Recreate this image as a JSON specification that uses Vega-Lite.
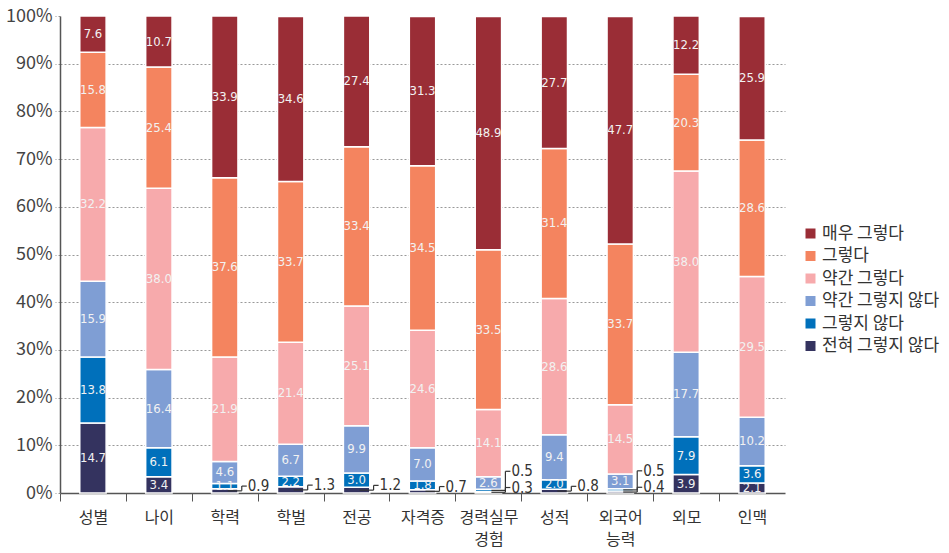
{
  "$schema": "https://vega.github.io/schema/vega-lite/v6.json",
  "width": 725,
  "height": 477,
  "autosize": {"type": "none"},
  "padding": {"left": 60, "top": 16, "right": 164, "bottom": 60},
  "background": "white",
  "config": {
    "view": {"stroke": null},
    "font": "Noto Sans CJK KR"
  },
  "data": {
    "values": [
      {"cat": "성별", "resp": "전혀 그렇지 않다", "k": 0, "v": 14.7},
      {"cat": "성별", "resp": "그렇지 않다", "k": 1, "v": 13.8},
      {"cat": "성별", "resp": "약간 그렇지 않다", "k": 2, "v": 15.9},
      {"cat": "성별", "resp": "약간 그렇다", "k": 3, "v": 32.2},
      {"cat": "성별", "resp": "그렇다", "k": 4, "v": 15.8},
      {"cat": "성별", "resp": "매우 그렇다", "k": 5, "v": 7.6},
      {"cat": "나이", "resp": "전혀 그렇지 않다", "k": 0, "v": 3.4},
      {"cat": "나이", "resp": "그렇지 않다", "k": 1, "v": 6.1},
      {"cat": "나이", "resp": "약간 그렇지 않다", "k": 2, "v": 16.4},
      {"cat": "나이", "resp": "약간 그렇다", "k": 3, "v": 38.0},
      {"cat": "나이", "resp": "그렇다", "k": 4, "v": 25.4},
      {"cat": "나이", "resp": "매우 그렇다", "k": 5, "v": 10.7},
      {"cat": "학력", "resp": "전혀 그렇지 않다", "k": 0, "v": 0.9},
      {"cat": "학력", "resp": "그렇지 않다", "k": 1, "v": 1.1},
      {"cat": "학력", "resp": "약간 그렇지 않다", "k": 2, "v": 4.6},
      {"cat": "학력", "resp": "약간 그렇다", "k": 3, "v": 21.9},
      {"cat": "학력", "resp": "그렇다", "k": 4, "v": 37.6},
      {"cat": "학력", "resp": "매우 그렇다", "k": 5, "v": 33.9},
      {"cat": "학벌", "resp": "전혀 그렇지 않다", "k": 0, "v": 1.3},
      {"cat": "학벌", "resp": "그렇지 않다", "k": 1, "v": 2.2},
      {"cat": "학벌", "resp": "약간 그렇지 않다", "k": 2, "v": 6.7},
      {"cat": "학벌", "resp": "약간 그렇다", "k": 3, "v": 21.4},
      {"cat": "학벌", "resp": "그렇다", "k": 4, "v": 33.7},
      {"cat": "학벌", "resp": "매우 그렇다", "k": 5, "v": 34.6},
      {"cat": "전공", "resp": "전혀 그렇지 않다", "k": 0, "v": 1.2},
      {"cat": "전공", "resp": "그렇지 않다", "k": 1, "v": 3.0},
      {"cat": "전공", "resp": "약간 그렇지 않다", "k": 2, "v": 9.9},
      {"cat": "전공", "resp": "약간 그렇다", "k": 3, "v": 25.1},
      {"cat": "전공", "resp": "그렇다", "k": 4, "v": 33.4},
      {"cat": "전공", "resp": "매우 그렇다", "k": 5, "v": 27.4},
      {"cat": "자격증", "resp": "전혀 그렇지 않다", "k": 0, "v": 0.7},
      {"cat": "자격증", "resp": "그렇지 않다", "k": 1, "v": 1.8},
      {"cat": "자격증", "resp": "약간 그렇지 않다", "k": 2, "v": 7.0},
      {"cat": "자격증", "resp": "약간 그렇다", "k": 3, "v": 24.6},
      {"cat": "자격증", "resp": "그렇다", "k": 4, "v": 34.5},
      {"cat": "자격증", "resp": "매우 그렇다", "k": 5, "v": 31.3},
      {"cat": "경력실무경험", "resp": "전혀 그렇지 않다", "k": 0, "v": 0.3},
      {"cat": "경력실무경험", "resp": "그렇지 않다", "k": 1, "v": 0.5},
      {"cat": "경력실무경험", "resp": "약간 그렇지 않다", "k": 2, "v": 2.6},
      {"cat": "경력실무경험", "resp": "약간 그렇다", "k": 3, "v": 14.1},
      {"cat": "경력실무경험", "resp": "그렇다", "k": 4, "v": 33.5},
      {"cat": "경력실무경험", "resp": "매우 그렇다", "k": 5, "v": 48.9},
      {"cat": "성적", "resp": "전혀 그렇지 않다", "k": 0, "v": 0.8},
      {"cat": "성적", "resp": "그렇지 않다", "k": 1, "v": 2.0},
      {"cat": "성적", "resp": "약간 그렇지 않다", "k": 2, "v": 9.4},
      {"cat": "성적", "resp": "약간 그렇다", "k": 3, "v": 28.6},
      {"cat": "성적", "resp": "그렇다", "k": 4, "v": 31.4},
      {"cat": "성적", "resp": "매우 그렇다", "k": 5, "v": 27.7},
      {"cat": "외국어능력", "resp": "전혀 그렇지 않다", "k": 0, "v": 0.4},
      {"cat": "외국어능력", "resp": "그렇지 않다", "k": 1, "v": 0.5},
      {"cat": "외국어능력", "resp": "약간 그렇지 않다", "k": 2, "v": 3.1},
      {"cat": "외국어능력", "resp": "약간 그렇다", "k": 3, "v": 14.5},
      {"cat": "외국어능력", "resp": "그렇다", "k": 4, "v": 33.7},
      {"cat": "외국어능력", "resp": "매우 그렇다", "k": 5, "v": 47.7},
      {"cat": "외모", "resp": "전혀 그렇지 않다", "k": 0, "v": 3.9},
      {"cat": "외모", "resp": "그렇지 않다", "k": 1, "v": 7.9},
      {"cat": "외모", "resp": "약간 그렇지 않다", "k": 2, "v": 17.7},
      {"cat": "외모", "resp": "약간 그렇다", "k": 3, "v": 38.0},
      {"cat": "외모", "resp": "그렇다", "k": 4, "v": 20.3},
      {"cat": "외모", "resp": "매우 그렇다", "k": 5, "v": 12.2},
      {"cat": "인맥", "resp": "전혀 그렇지 않다", "k": 0, "v": 2.1},
      {"cat": "인맥", "resp": "그렇지 않다", "k": 1, "v": 3.6},
      {"cat": "인맥", "resp": "약간 그렇지 않다", "k": 2, "v": 10.2},
      {"cat": "인맥", "resp": "약간 그렇다", "k": 3, "v": 29.5},
      {"cat": "인맥", "resp": "그렇다", "k": 4, "v": 28.6},
      {"cat": "인맥", "resp": "매우 그렇다", "k": 5, "v": 25.9}
    ]
  },
  "transform": [
    {"stack": "v", "groupby": ["cat"], "sort": [{"field": "k", "order": "ascending"}], "as": ["y0", "y1"]},
    {"calculate": "(datum.y0 + datum.y1) / 2", "as": "mid"},
    {"calculate": "datum.k == 0 ? datum.mid + 1.0 : datum.mid + 4.0", "as": "ly"}
  ],
  "encoding": {
    "x": {
      "field": "cat",
      "type": "nominal",
      "sort": ["성별", "나이", "학력", "학벌", "전공", "자격증", "경력실무경험", "성적", "외국어능력", "외모", "인맥"],
      "scale": {"paddingInner": 0.6, "paddingOuter": 0.3},
      "axis": {
        "title": null,
        "labelAngle": 0,
        "labelFontSize": 16,
        "labelColor": "#333333",
        "labelFont": "Noto Sans CJK KR",
        "labelExpr": "datum.label == '경력실무경험' ? ['경력실무', '경험'] : datum.label == '외국어능력' ? ['외국어', '능력'] : datum.label",
        "labelLineHeight": 22,
        "labelPadding": 8,
        "domainColor": "#555555",
        "domainWidth": 1.5,
        "tickColor": "#555555",
        "tickSize": 8,
        "tickOffset": -33,
        "labelOffset": 33
      }
    }
  },
  "layer": [
    {
      "mark": {"type": "bar", "stroke": "white", "strokeWidth": 1.5},
      "encoding": {
        "y": {
          "field": "y0",
          "type": "quantitative",
          "scale": {"domain": [0, 100], "nice": false},
          "axis": {
            "title": null,
            "values": [0, 10, 20, 30, 40, 50, 60, 70, 80, 90, 100],
            "labelExpr": "datum.value + '%'",
            "labelFontSize": 18,
            "labelColor": "#444444",
            "labelFont": "Noto Sans CJK KR",
            "labelPadding": 3,
            "domainColor": "#555555",
            "domainWidth": 1.5,
            "tickColor": "#999999",
            "tickDash": [2, 2],
            "tickSize": 5,
            "grid": true,
            "gridColor": "#999999",
            "gridDash": [2, 2],
            "gridOpacity": {"condition": {"test": "datum.value == 100 || datum.value == 0", "value": 0}, "value": 1}
          }
        },
        "y2": {"field": "y1"},
        "color": {
          "field": "resp",
          "type": "nominal",
          "scale": {
            "domain": ["매우 그렇다", "그렇다", "약간 그렇다", "약간 그렇지 않다", "그렇지 않다", "전혀 그렇지 않다"],
            "range": ["#9A2D36", "#F4845F", "#F7AAAC", "#7F9ED4", "#0070BB", "#34335F"]
          },
          "legend": {
            "title": null,
            "orient": "none",
            "legendX": 742,
            "legendY": 209,
            "padding": 0,
            "symbolType": "square",
            "symbolSize": 100,
            "symbolStrokeWidth": 0,
            "labelFontSize": 17,
            "labelColor": "#333333",
            "labelFont": "Noto Sans CJK KR",
            "labelOffset": 3,
            "rowPadding": 4.5
          }
        }
      }
    },
    {
      "transform": [{"filter": "!((datum.k == 0 && datum.v < 2) || (datum.k == 1 && datum.v < 1))"}],
      "mark": {"type": "text", "fontSize": 13, "color": "#F2F2F2", "font": "Liberation Sans Narrow, DejaVu Sans Condensed, sans-serif", "baseline": "middle", "align": "center"},
      "encoding": {
        "y": {"field": "mid", "type": "quantitative"},
        "text": {"field": "v", "type": "quantitative", "format": ".1f"}
      }
    },
    {
      "transform": [{"filter": "(datum.k == 0 && datum.v < 2) || (datum.k == 1 && datum.v < 1)"}],
      "mark": {"type": "rule", "color": "#333333", "strokeWidth": 1.2, "xOffset": 3, "x2Offset": 17},
      "encoding": {
        "y": {"field": "mid", "type": "quantitative"},
        "x2": {"field": "cat"}
      }
    },
    {
      "transform": [{"filter": "(datum.k == 0 && datum.v < 2) || (datum.k == 1 && datum.v < 1)"}],
      "mark": {"type": "rule", "color": "#333333", "strokeWidth": 1.2, "xOffset": 17},
      "encoding": {
        "y": {"field": "mid", "type": "quantitative"},
        "y2": {"field": "ly"}
      }
    },
    {
      "transform": [{"filter": "(datum.k == 0 && datum.v < 2) || (datum.k == 1 && datum.v < 1)"}],
      "mark": {"type": "rule", "color": "#333333", "strokeWidth": 1.2, "xOffset": 17, "x2Offset": 22},
      "encoding": {
        "y": {"field": "ly", "type": "quantitative"},
        "x2": {"field": "cat"}
      }
    },
    {
      "transform": [{"filter": "(datum.k == 0 && datum.v < 2) || (datum.k == 1 && datum.v < 1)"}],
      "mark": {"type": "text", "fontSize": 15, "color": "#333333", "font": "Liberation Sans Narrow, DejaVu Sans Condensed, sans-serif", "baseline": "middle", "align": "left", "dx": 23},
      "encoding": {
        "y": {"field": "ly", "type": "quantitative"},
        "text": {"field": "v", "type": "quantitative", "format": ".1f"}
      }
    }
  ]
}
